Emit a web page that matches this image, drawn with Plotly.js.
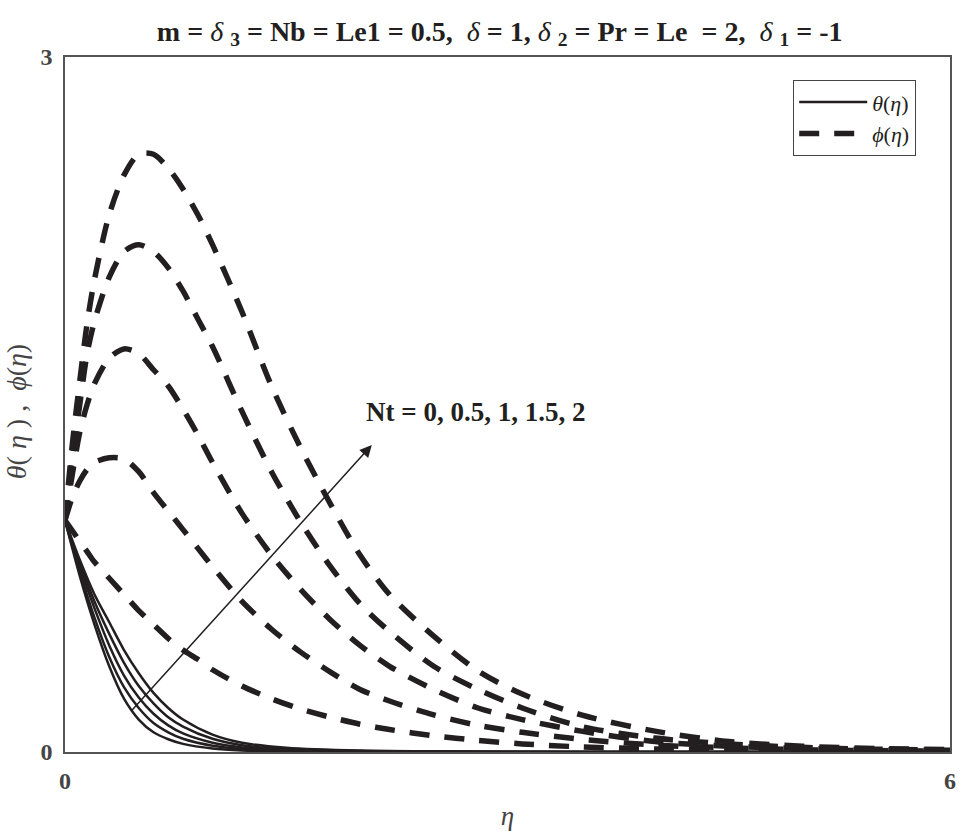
<!DOCTYPE html>
<html>
<head>
<meta charset="utf-8">
<script src="https://cdn.plot.ly/plotly-3.0.1.min.js"></script>
<style>
  body { margin: 0; background: #fff; }
  #chart { width: 961px; height: 838px; }
</style>
</head>
<body>
<div id="chart"></div>
<script>
// eta grid for the temperature curves
var etaTheta = [0, 0.1, 0.2, 0.3, 0.4, 0.5, 0.6, 0.7, 0.8, 1.0, 1.2, 1.5, 2, 3, 4, 6];
var theta0   = [1, 0.76, 0.55, 0.37, 0.23, 0.14, 0.085, 0.055, 0.035, 0.015, 0.007, 0.003, 0.001, 0, 0, 0];
var theta05  = [1, 0.78, 0.58, 0.41, 0.28, 0.19, 0.125, 0.085, 0.057, 0.027, 0.013, 0.005, 0.002, 0, 0, 0];
var theta1   = [1, 0.80, 0.62, 0.46, 0.33, 0.235, 0.165, 0.115, 0.08, 0.04, 0.02, 0.008, 0.003, 0, 0, 0];
var theta15  = [1, 0.815, 0.65, 0.51, 0.385, 0.285, 0.21, 0.15, 0.11, 0.057, 0.029, 0.012, 0.004, 0.001, 0, 0];
var theta2   = [1, 0.83, 0.68, 0.56, 0.44, 0.34, 0.255, 0.19, 0.14, 0.075, 0.04, 0.018, 0.006, 0.001, 0, 0];

// eta grid for the concentration curves
var etaPhi = [0, 0.05, 0.1, 0.15, 0.2, 0.3, 0.4, 0.5, 0.6, 0.7, 0.8, 0.9, 1.0, 1.2, 1.4, 1.6, 1.8, 2.0, 2.2, 2.5, 2.8, 3.1, 3.5, 4, 4.5, 5, 5.5, 6];
var phi0  = [1, 0.955, 0.91, 0.865, 0.82, 0.75, 0.68, 0.61, 0.55, 0.49, 0.44, 0.40, 0.355, 0.285, 0.23, 0.185, 0.15, 0.12, 0.097, 0.07, 0.05, 0.035, 0.022, 0.013, 0.008, 0.005, 0.003, 0.002];
var phi05 = [1, 1.1, 1.17, 1.22, 1.25, 1.27, 1.265, 1.21, 1.12, 1.04, 0.96, 0.88, 0.80, 0.65, 0.53, 0.43, 0.345, 0.27, 0.22, 0.16, 0.115, 0.085, 0.055, 0.03, 0.018, 0.01, 0.006, 0.004];
var phi1  = [1, 1.2, 1.38, 1.5, 1.59, 1.70, 1.74, 1.72, 1.65, 1.58, 1.48, 1.37, 1.25, 1.03, 0.85, 0.70, 0.57, 0.46, 0.37, 0.27, 0.19, 0.14, 0.09, 0.045, 0.025, 0.015, 0.01, 0.006];
var phi15 = [1, 1.27, 1.5, 1.72, 1.86, 2.05, 2.16, 2.19, 2.16, 2.09, 1.99, 1.87, 1.75, 1.47, 1.21, 0.99, 0.80, 0.64, 0.52, 0.37, 0.27, 0.19, 0.11, 0.06, 0.035, 0.02, 0.012, 0.008];
var phi2  = [1, 1.33, 1.6, 1.85, 2.04, 2.32, 2.49, 2.58, 2.58, 2.52, 2.43, 2.32, 2.19, 1.90, 1.58, 1.31, 1.07, 0.85, 0.68, 0.50, 0.35, 0.25, 0.16, 0.09, 0.045, 0.025, 0.015, 0.01];

var thetaSeries = [theta0, theta05, theta1, theta15, theta2];
var phiSeries = [phi0, phi05, phi1, phi15, phi2];

var serif = 'Liberation Serif, Times New Roman, serif';
var ink = '#231f20';
var sp = '&nbsp;';

var data = [];
thetaSeries.forEach(function(s, i) {
  data.push({
    x: etaTheta, y: s, mode: 'lines', type: 'scatter',
    line: {color: ink, width: 2.5, shape: 'spline', smoothing: 0.8},
    name: '<i>θ</i>(<i>η</i>)', showlegend: i == 0, legendrank: 1
  });
});
phiSeries.forEach(function(s, i) {
  data.push({
    x: etaPhi, y: s, mode: 'lines', type: 'scatter',
    line: {color: ink, width: 5.5, dash: '20px,15px', shape: 'spline', smoothing: 0.8},
    name: '<i>ϕ</i>(<i>η</i>)', showlegend: i == 0, legendrank: 2
  });
});

var d = function(n) { return '<i>δ</i>' + sp + '<sub><b>' + n + '</b></sub>' + sp; };
var titleText = '<b>m = </b>' + d(3) + '<b>= Nb = Le1 = 0.5,' + sp + sp + '</b><i>δ</i>' + sp +
  '<b>= 1,' + sp + '</b>' + d(2) + '<b>= Pr = Le' + sp + ' = 2,' + sp + sp + '</b>' + d(1) + '<b>= -1</b>';

var layout = {
  width: 961, height: 838,
  margin: {l: 65, r: 11, t: 57, b: 86},
  paper_bgcolor: '#fff', plot_bgcolor: '#fff',
  showlegend: true,
  title: {
    text: titleText,
    font: {family: serif, size: 28, color: ink},
    x: 0.52, xref: 'container', y: 0.975, yref: 'container'
  },
  xaxis: {
    range: [0, 6], tickvals: [0, 6], ticktext: ['0', '6'],
    showgrid: false, zeroline: false,
    showline: true, mirror: true, linecolor: '#555', linewidth: 1.5,
    ticks: 'inside', ticklen: 8, tickcolor: '#555', ticklabelstandoff: 6,
    tickfont: {family: serif, size: 24, color: '#444', weight: 'bold'},
    title: {text: '<i>η</i>', font: {family: serif, size: 27, color: '#444'}, standoff: 14}
  },
  yaxis: {
    range: [0, 3], tickvals: [0, 3], ticktext: ['0', '3'],
    showgrid: false, zeroline: false,
    showline: true, mirror: true, linecolor: '#555', linewidth: 1.5,
    ticks: 'inside', ticklen: 8, tickcolor: '#555', ticklabelstandoff: 6,
    tickfont: {family: serif, size: 24, color: '#444', weight: 'bold'},
    title: {text: '<i>θ</i>(' + sp + '<i>η</i>' + sp + ')' + sp + ',' + sp + sp + '<i>ϕ</i>(<i>η</i>)' + sp + sp,
            font: {family: serif, size: 28, color: '#444'}, standoff: 6}
  },
  legend: {
    x: 0.8226, y: 0.967, xanchor: 'left', yanchor: 'top',
    bgcolor: '#fff', bordercolor: '#444', borderwidth: 1.2,
    font: {family: serif, size: 22, color: ink},
    itemwidth: 68, tracegroupgap: 0
  },
  annotations: [
    {
      x: 2.08, y: 1.325, ax: 0.44, ay: 0.17, xref: 'x', yref: 'y', axref: 'x', ayref: 'y',
      text: '', showarrow: true, arrowhead: 2, arrowsize: 1.6, arrowwidth: 1.5, arrowcolor: ink
    },
    {
      x: 2.78, y: 1.467, xref: 'x', yref: 'y', showarrow: false,
      text: '<b>Nt = 0, 0.5, 1, 1.5, 2</b>',
      font: {family: serif, size: 27, color: ink}
    }
  ]
};

Plotly.newPlot('chart', data, layout, {displayModeBar: false});
</script>
</body>
</html>
